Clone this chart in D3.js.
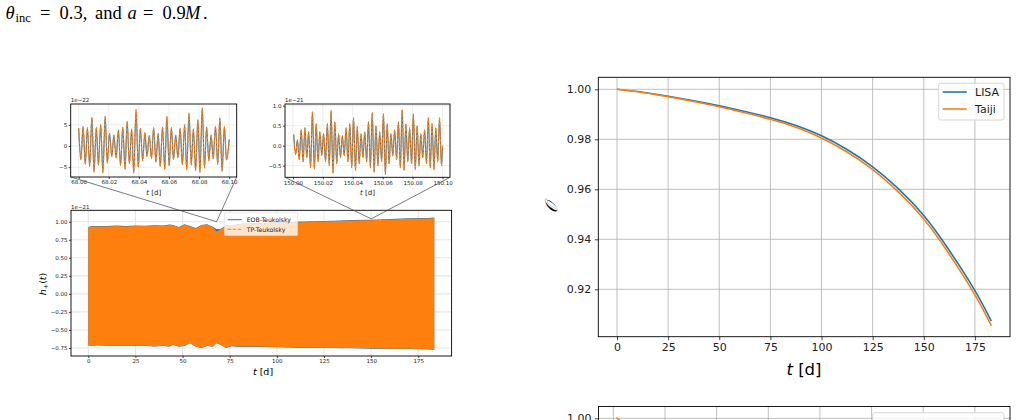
<!DOCTYPE html>
<html><head><meta charset="utf-8">
<script src="https://cdn.jsdelivr.net/npm/d3@7"></script>
<style>body{margin:0;background:#fff;} svg{display:block;}</style>
</head><body>
<svg id="c" width="1026" height="420"></svg>
<script>
// ---------- DATA ----------
// Main waveform (h+ in 1e-21): envelope of the dense oscillation band
const envT = [0, 1, 5, 10, 15, 20, 25, 30, 35, 40, 43, 45, 48, 51, 54, 57, 60, 63, 66, 68, 70, 73, 76, 80, 90, 100, 110, 120, 130, 140, 150, 160, 170, 180, 183.5];
const tpUpper = [0.92, 0.93, 0.935, 0.935, 0.94, 0.935, 0.94, 0.94, 0.945, 0.94, 0.955, 0.95, 0.92, 0.96, 0.935, 0.905, 0.95, 0.96, 0.925, 0.865, 0.89, 0.945, 0.94, 0.965, 0.975, 0.985, 0.99, 1.0, 1.005, 1.015, 1.02, 1.03, 1.04, 1.045, 1.05];
const tpLower = [-0.71, -0.715, -0.71, -0.715, -0.72, -0.715, -0.72, -0.72, -0.725, -0.72, -0.73, -0.70, -0.73, -0.72, -0.68, -0.73, -0.745, -0.72, -0.73, -0.68, -0.70, -0.745, -0.72, -0.73, -0.73, -0.735, -0.74, -0.745, -0.745, -0.75, -0.755, -0.76, -0.76, -0.765, -0.77];
const eobUpper = [0.924, 0.936, 0.941, 0.94, 0.946, 0.94, 0.946, 0.945, 0.951, 0.946, 0.96, 0.956, 0.926, 0.966, 0.941, 0.912, 0.956, 0.966, 0.931, 0.90, 0.897, 0.95, 0.946, 0.972, 0.982, 0.992, 0.998, 1.008, 1.013, 1.023, 1.028, 1.038, 1.048, 1.053, 1.058];
const eobLower = [-0.714, -0.719, -0.714, -0.719, -0.724, -0.719, -0.724, -0.724, -0.729, -0.724, -0.734, -0.704, -0.734, -0.724, -0.684, -0.734, -0.749, -0.724, -0.734, -0.684, -0.704, -0.749, -0.725, -0.735, -0.735, -0.74, -0.745, -0.75, -0.75, -0.755, -0.76, -0.765, -0.765, -0.77, -0.775];
const mainXTicks = [0, 25, 50, 75, 100, 125, 150, 175];
const mainYTicks = [-0.75, -0.5, -0.25, 0, 0.25, 0.5, 0.75, 1.0];

// Inset 1: t - 68.00 d in units of 0.001 d, h+ in 1e-22
const ins1T = [0,1.5,2.9,4.4,5.8,7.3,8.8,10.2,11.7,13.1,14.6,16.1,17.6,19.0,20.5,22.0,23.4,24.9,26.4,27.8,29.3,30.8,32.2,33.7,35.2,36.6,38.1,39.6,41.0,42.5,44.0,45.4,46.9,48.4,49.8,51.3,52.8,54.2,55.7,57.2,58.6,60.1,61.6,63.0,64.5,65.9,67.4,68.9,70.4,71.8,73.3,74.8,76.2,77.7,79.2,80.6,82.1,83.6,85.0,86.5,88.0,89.4,90.9,92.4,93.8,95.3,96.8,98.2,100];
const ins1V = [4.2,-3.2,4.6,-4.3,4.3,-4.8,6.8,-6.2,4.4,-4.5,5.0,-6.3,7.0,-4.0,3.0,-2.5,2.6,-2.8,3.8,-4.6,4.4,-5.5,5.8,-4.2,4.0,-6.4,8.6,-5.0,4.2,-3.5,3.2,-2.5,2.5,-3.0,4.3,-3.8,3.0,-4.8,4.5,-5.5,7.0,-4.6,4.3,-3.2,2.6,-2.8,4.2,-4.4,5.0,-5.6,7.8,-4.5,4.0,-5.8,6.2,-6.2,9.0,-5.2,4.5,-3.5,2.6,-3.0,4.6,-4.3,6.6,-6.0,4.6,-3.3,1.5];
const ins1XTicks = [0, 20, 40, 60, 80, 100];
const ins1XLabels = ["68.00", "68.02", "68.04", "68.06", "68.08", "68.10"];
const ins1YTicks = [-5, 0, 5];

// Inset 2: t - 150.00 d in units of 0.001 d, h+ in 1e-21
const ins2T = [0.5,1.8,3.0,4.2,5.5,6.8,8.0,9.3,10.5,11.8,13.0,14.3,15.5,16.8,18.0,19.3,20.5,21.8,23.0,24.3,25.5,26.8,28.0,29.3,30.5,31.8,33.0,34.3,35.5,36.8,38.0,39.3,40.5,41.8,43.0,44.3,45.5,46.8,48.0,49.3,50.5,51.8,53.0,54.3,55.5,56.8,58.0,59.3,60.5,61.8,63.0,64.3,65.5,66.8,68.0,69.3,70.5,71.8,73.0,74.3,75.5,76.8,78.0,79.3,80.5,81.8,83.0,84.3,85.5,86.8,88.0,89.3,90.5,91.8,93.0,94.3,95.5,96.8,98.0,99.3,100];
const ins2V = [0.28,-0.22,0.15,-0.35,0.40,-0.40,0.45,-0.30,0.35,-0.55,0.85,-0.58,0.55,-0.40,0.35,-0.25,0.30,-0.40,0.55,-0.50,0.88,-0.69,0.60,-0.45,0.30,-0.30,0.25,-0.25,0.45,-0.40,0.55,-0.55,0.70,-0.62,0.48,-0.45,0.30,-0.30,0.35,-0.40,0.60,-0.55,0.83,-0.67,0.50,-0.50,0.35,-0.40,0.80,-0.72,0.55,-0.45,0.30,-0.25,0.40,-0.35,0.60,-0.55,0.90,-0.62,0.55,-0.40,0.45,-0.45,0.80,-0.60,0.50,-0.50,0.30,-0.30,0.40,-0.45,0.70,-0.55,0.55,-0.60,0.45,-0.40,0.70,-0.50,0.0];
const ins2XTicks = [0, 20, 40, 60, 80, 100];
const ins2XLabels = ["150.00", "150.02", "150.04", "150.06", "150.08", "150.10"];
const ins2YTicks = [-0.5, 0, 0.5, 1.0];
// connector targets on main axes (t [d], h+ 1e-21)
const conn1 = [68.05, 1.0];
const conn2 = [150.05, 1.04];

// Overlap figure
const tO = [0, 12.5, 25, 37.5, 50, 62.5, 75, 87.5, 100, 112.5, 125, 137.5, 150, 162.5, 175, 183];
const lisa = [1.0000, 0.9988, 0.9972, 0.9954, 0.9934, 0.9911, 0.9886, 0.9855, 0.9814, 0.9759, 0.9690, 0.9603, 0.9495, 0.9355, 0.9195, 0.9073];
const taiji = [1.0000, 0.9987, 0.9970, 0.9951, 0.9930, 0.9906, 0.9880, 0.9848, 0.9805, 0.9749, 0.9679, 0.9590, 0.9481, 0.9340, 0.9178, 0.9055];
const oXTicks = [0, 25, 50, 75, 100, 125, 150, 175];
const oYTicks = [0.92, 0.94, 0.96, 0.98, 1.00];

// Lower (cropped) figure
const bT = [1.5, 4, 8];
const bTaiji = [1.0006, 0.9965, 0.99];
const bXTicks = [0, 25, 50, 75, 100, 125, 150, 175];
const bYTicks = [1.00];

// ---------- DRAW ----------
const BLUE = "#1f77b4", ORANGE = "#ff7f0e";
const SANS = "DejaVu Sans";
const svg = d3.select("#c");
svg.append("rect").attr("width", 1026).attr("height", 420).attr("fill", "#fff");

// caption line
const cap = svg.append("text").attr("y", 18.5)
  .attr("font-family", "Liberation Serif").attr("font-size", 18.5).attr("fill", "#000");
cap.append("tspan").attr("x", 5.5).attr("font-style", "italic").text("θ");
cap.append("tspan").attr("x", 15.5).attr("font-size", 12.5).attr("dy", 3).text("inc");
cap.append("tspan").attr("x", 40).attr("dy", -3).text("=");
cap.append("tspan").attr("x", 59.5).text("0.3,");
cap.append("tspan").attr("x", 95).text("and");
cap.append("tspan").attr("x", 127.5).attr("font-style", "italic").text("a");
cap.append("tspan").attr("x", 143).text("=");
cap.append("tspan").attr("x", 162.5).text("0.9");
cap.append("tspan").attr("x", 185).attr("font-style", "italic").text("M");
cap.append("tspan").attr("x", 203).text(".");

let clipId = 0;
function frame(x, y, opt) {
  const g = svg.append("g");
  const [x0, x1] = x.range(), [y0, y1] = y.range();
  const id = "clip" + (clipId++);
  svg.append("clipPath").attr("id", id).append("rect")
    .attr("x", x0).attr("y", y1).attr("width", x1 - x0).attr("height", y0 - y1);
  const gg = g.append("g");
  opt.xt.forEach(v => gg.append("line").attr("x1", x(v)).attr("x2", x(v)).attr("y1", y0).attr("y2", y1)
    .attr("stroke", opt.grid).attr("stroke-width", opt.gw));
  opt.yt.forEach(v => gg.append("line").attr("y1", y(v)).attr("y2", y(v)).attr("x1", x0).attr("x2", x1)
    .attr("stroke", opt.grid).attr("stroke-width", opt.gw));
  const plot = g.append("g").attr("clip-path", `url(#${id})`);
  const top = svg.append("g");
  return {g, plot, top, x, y, finish() {
    top.append("rect").attr("x", x0).attr("y", y1).attr("width", x1 - x0).attr("height", y0 - y1)
      .attr("fill", "none").attr("stroke", "#000").attr("stroke-width", opt.sw);
    const xa = top.append("g").attr("transform", `translate(0,${y0})`)
      .call(d3.axisBottom(x).tickValues(opt.xt).tickSize(opt.tl).tickPadding(opt.tp)
        .tickFormat((d, i) => opt.xl ? opt.xl[i] : opt.xf(d)));
    const ya = top.append("g").attr("transform", `translate(${x0},0)`)
      .call(d3.axisLeft(y).tickValues(opt.yt).tickSize(opt.tl).tickPadding(opt.tp).tickFormat(opt.yf));
    [xa, ya].forEach(a => {
      a.select(".domain").remove();
      a.selectAll("line").attr("stroke", "#000").attr("stroke-width", opt.sw * 0.8);
      a.selectAll("text").attr("font-family", SANS).attr("font-size", opt.fs).attr("fill", "#222");
    });
  }};
}

// ---- Main waveform axes ----
const mx = d3.scaleLinear().domain([-9.175, 192.675]).range([71, 451.6]);
const my = d3.scaleLinear().domain([-0.861, 1.158]).range([356, 210.3]);
const M = frame(mx, my, {xt: mainXTicks, yt: mainYTicks, grid: "#e6e6e6", gw: 1.1, sw: 0.9, tl: 2, tp: 1.5, fs: 5.5,
  xf: d3.format("d"), yf: d3.format(".2f")});
const envData = envT.map((t, i) => ({t, a: tpLower[i], b: tpUpper[i], c: eobLower[i], d: eobUpper[i]}));
M.plot.append("path").datum(envData).attr("fill", BLUE)
  .attr("d", d3.area().x(d => mx(d.t)).y0(d => my(d.c)).y1(d => my(d.d)));
M.plot.append("path").datum(envData).attr("fill", ORANGE)
  .attr("d", d3.area().x(d => mx(d.t)).y0(d => my(d.a)).y1(d => my(d.b)));
M.finish();
svg.append("text").attr("x", 71).attr("y", 208.5).attr("font-family", SANS).attr("font-size", 5.5).attr("fill", "#222").text("1e−21");
const mxl = svg.append("text").attr("x", 263).attr("y", 375).attr("text-anchor", "middle")
  .attr("font-family", SANS).attr("font-size", 9.5);
mxl.append("tspan").attr("font-style", "italic").text("t");
mxl.append("tspan").text(" [d]");
const myl = svg.append("text").attr("transform", "translate(46,284) rotate(-90)").attr("text-anchor", "middle")
  .attr("font-family", SANS).attr("font-size", 9.5);
myl.append("tspan").attr("font-style", "italic").text("h");
myl.append("tspan").attr("font-size", 6.5).attr("dy", 2).text("+");
myl.append("tspan").attr("dy", -2).text("(");
myl.append("tspan").attr("font-style", "italic").text("t");
myl.append("tspan").text(")");
// legend
const lg = svg.append("g");
lg.append("rect").attr("x", 224.3).attr("y", 212.3).attr("width", 73.4).attr("height", 23.4).attr("rx", 1.5)
  .attr("fill", "#fff").attr("fill-opacity", 0.8).attr("stroke", "#ccc").attr("stroke-width", 0.5);
lg.append("line").attr("x1", 227.7).attr("x2", 241.7).attr("y1", 219.7).attr("y2", 219.7).attr("stroke", BLUE).attr("stroke-width", 1);
lg.append("line").attr("x1", 227.7).attr("x2", 241.7).attr("y1", 229.3).attr("y2", 229.3).attr("stroke", ORANGE).attr("stroke-width", 1).attr("stroke-dasharray", "3.5,1.5");
lg.append("text").attr("x", 246.7).attr("y", 221.9).attr("font-family", SANS).attr("font-size", 6.2).attr("fill", "#222").text("EOB-Teukolsky");
lg.append("text").attr("x", 246.7).attr("y", 231.5).attr("font-family", SANS).attr("font-size", 6.2).attr("fill", "#222").text("TP-Teukolsky");

// ---- Insets ----
function inset(xr, yd, yr, T, V, xt, xl, yt, yf, off, conn) {
  const x = d3.scaleLinear().domain([-5.3, 105]).range(xr);
  const y = d3.scaleLinear().domain(yd).range(yr);
  const F = frame(x, y, {xt, xl, yt, grid: "#e8e8e8", gw: 0.8, sw: 0.9, tl: 2, tp: 1.5, fs: 5.5, yf});
  const pts = T.map((t, i) => [t, V[i]]);
  const line = d3.line().x(d => x(d[0])).y(d => y(d[1])).curve(d3.curveMonotoneX);
  F.plot.append("path").datum(pts).attr("d", line).attr("fill", "none").attr("stroke", BLUE).attr("stroke-width", 1.1);
  F.plot.append("path").datum(pts).attr("d", line).attr("fill", "none").attr("stroke", ORANGE).attr("stroke-width", 1.1).attr("stroke-dasharray", "3,1.3");
  F.finish();
  svg.append("text").attr("x", xr[0]).attr("y", yr[1] - 2).attr("font-family", SANS).attr("font-size", 5.5).attr("fill", "#222").text(off);
  const xl2 = svg.append("text").attr("x", (xr[0] + xr[1]) / 2).attr("y", 194.5).attr("text-anchor", "middle")
    .attr("font-family", SANS).attr("font-size", 7).attr("fill", "#222");
  xl2.append("tspan").attr("font-style", "italic").text("t");
  xl2.append("tspan").text(" [d]");
  const cx = mx(conn[0]), cy = my(conn[1]);
  [xr[0], xr[1]].forEach(px => svg.append("line").attr("x1", px).attr("y1", yr[0]).attr("x2", cx).attr("y2", cy)
    .attr("stroke", "#444").attr("stroke-width", 0.7));
}
inset([70.7, 236.7], [-7.33, 9.93], [177, 104], ins1T, ins1V, ins1XTicks, ins1XLabels, ins1YTicks, d3.format("d"), "1e−22", conn1);
inset([285, 450], [-0.79, 1.0425], [177.3, 104], ins2T, ins2V, ins2XTicks, ins2XLabels, ins2YTicks, d3.format(".1f"), "1e−21", conn2);

// ---- Overlap axes ----
const ox = d3.scaleLinear().domain([-9.15, 192.15]).range([598.3, 1010]);
const oy = d3.scaleLinear().domain([0.90104, 1.0048]).range([336.7, 77.3]);
const O = frame(ox, oy, {xt: oXTicks, yt: oYTicks, grid: "#b0b0b0", gw: 0.8, sw: 0.9, tl: 3.5, tp: 3.5, fs: 11,
  xf: d3.format("d"), yf: d3.format(".2f")});
const oline = d3.line().x(d => ox(d[0])).y(d => oy(d[1])).curve(d3.curveNatural);
O.plot.append("path").datum(tO.map((t, i) => [t, lisa[i]])).attr("d", oline).attr("fill", "none").attr("stroke", BLUE).attr("stroke-width", 1.6);
O.plot.append("path").datum(tO.map((t, i) => [t, taiji[i]])).attr("d", oline).attr("fill", "none").attr("stroke", ORANGE).attr("stroke-width", 1.6);
O.finish();
const oxl = svg.append("text").attr("x", 804).attr("y", 374.5).attr("text-anchor", "middle").attr("font-family", SANS).attr("font-size", 16.5);
oxl.append("tspan").attr("font-style", "italic").text("t");
oxl.append("tspan").text(" [d]");
svg.append("text").attr("transform", "translate(557,207) rotate(-90)").attr("text-anchor", "middle")
  .attr("font-family", "DejaVu Serif").attr("font-style", "italic").attr("font-size", 17).text("𝒪");
const ol = svg.append("g");
ol.append("rect").attr("x", 938.7).attr("y", 83.3).attr("width", 65.3).attr("height", 36.7).attr("rx", 2)
  .attr("fill", "#fff").attr("fill-opacity", 0.8).attr("stroke", "#ccc").attr("stroke-width", 0.8);
ol.append("line").attr("x1", 942.7).attr("x2", 966.7).attr("y1", 92).attr("y2", 92).attr("stroke", BLUE).attr("stroke-width", 1.6);
ol.append("line").attr("x1", 942.7).attr("x2", 966.7).attr("y1", 109).attr("y2", 109).attr("stroke", ORANGE).attr("stroke-width", 1.6);
ol.append("text").attr("x", 975).attr("y", 96).attr("font-family", SANS).attr("font-size", 11).attr("fill", "#222").text("LISA");
ol.append("text").attr("x", 975).attr("y", 113).attr("font-family", SANS).attr("font-size", 11).attr("fill", "#222").text("Taiji");

// ---- Lower cropped axes ----
const bx = d3.scaleLinear().domain([-7.2, 192]).range([598.5, 1010]);
const by = d3.scaleLinear().domain([0.9, 1.0108]).range([528.1, 406.5]);
const B = frame(bx, by, {xt: bXTicks, yt: bYTicks, grid: "#b0b0b0", gw: 0.8, sw: 0.9, tl: 3.5, tp: 3.5, fs: 11,
  xf: () => "", yf: d3.format(".2f")});
B.plot.append("path").datum(bT.map((t, i) => [t, bTaiji[i]])).attr("d", d3.line().x(d => bx(d[0])).y(d => by(d[1])))
  .attr("fill", "none").attr("stroke", ORANGE).attr("stroke-width", 1.6);
B.finish();
const bl = svg.append("g");
bl.append("rect").attr("x", 872.7).attr("y", 412.7).attr("width", 131.3).attr("height", 40).attr("rx", 2)
  .attr("fill", "#fff").attr("fill-opacity", 0.8).attr("stroke", "#ccc").attr("stroke-width", 0.8);
bl.append("text").attr("x", 930).attr("y", 427.5).attr("font-family", SANS).attr("font-size", 11).attr("fill", "#222").text("LISA");
</script>
</body></html>
